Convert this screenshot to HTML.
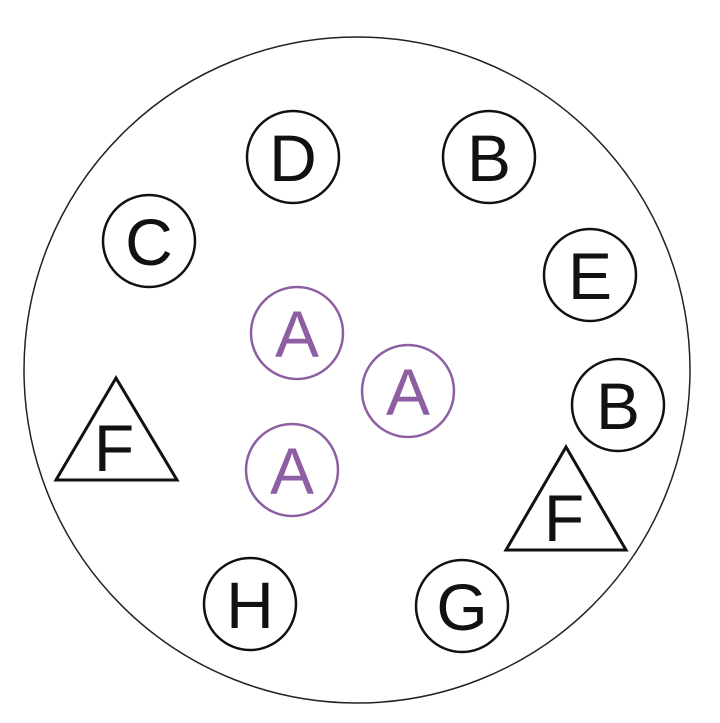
<!DOCTYPE html>
<html><head><style>html,body{margin:0;padding:0;background:#fff}svg{display:block}</style></head>
<body>
<svg width="720" height="723" viewBox="0 0 720 723" xmlns="http://www.w3.org/2000/svg" font-family="Liberation Sans, sans-serif" font-size="66" text-anchor="middle">
<circle cx="357" cy="370" r="333" fill="none" stroke="#222" stroke-width="1.5"/>
<g fill="none" stroke="#111" stroke-width="2.5">
<circle cx="293" cy="157" r="46"/>
<circle cx="489" cy="157" r="46"/>
<circle cx="149" cy="241" r="46"/>
<circle cx="590" cy="275" r="46"/>
<circle cx="618" cy="405" r="46"/>
<circle cx="250" cy="604" r="46"/>
<circle cx="462" cy="606" r="46"/>
<polygon points="116,378 56,480 177,480" stroke-width="3"/>
<polygon points="566,447 506,550 626,550" stroke-width="3"/>
</g>
<g fill="none" stroke="#8e5ea2" stroke-width="2.5">
<circle cx="297" cy="333" r="46"/>
<circle cx="408" cy="391" r="46"/>
<circle cx="292" cy="470" r="46"/>
</g>
<g fill="#111">
<text x="293" y="181">D</text>
<text x="489" y="181">B</text>
<text x="149" y="265">C</text>
<text x="590" y="299">E</text>
<text x="618" y="429">B</text>
<text x="250" y="628">H</text>
<text x="462" y="630">G</text>
<text x="114" y="471">F</text>
<text x="564" y="541">F</text>
</g>
<g fill="#8e5ea2">
<text x="297" y="357">A</text>
<text x="408" y="415">A</text>
<text x="292" y="494">A</text>
</g>
</svg>
</body></html>
